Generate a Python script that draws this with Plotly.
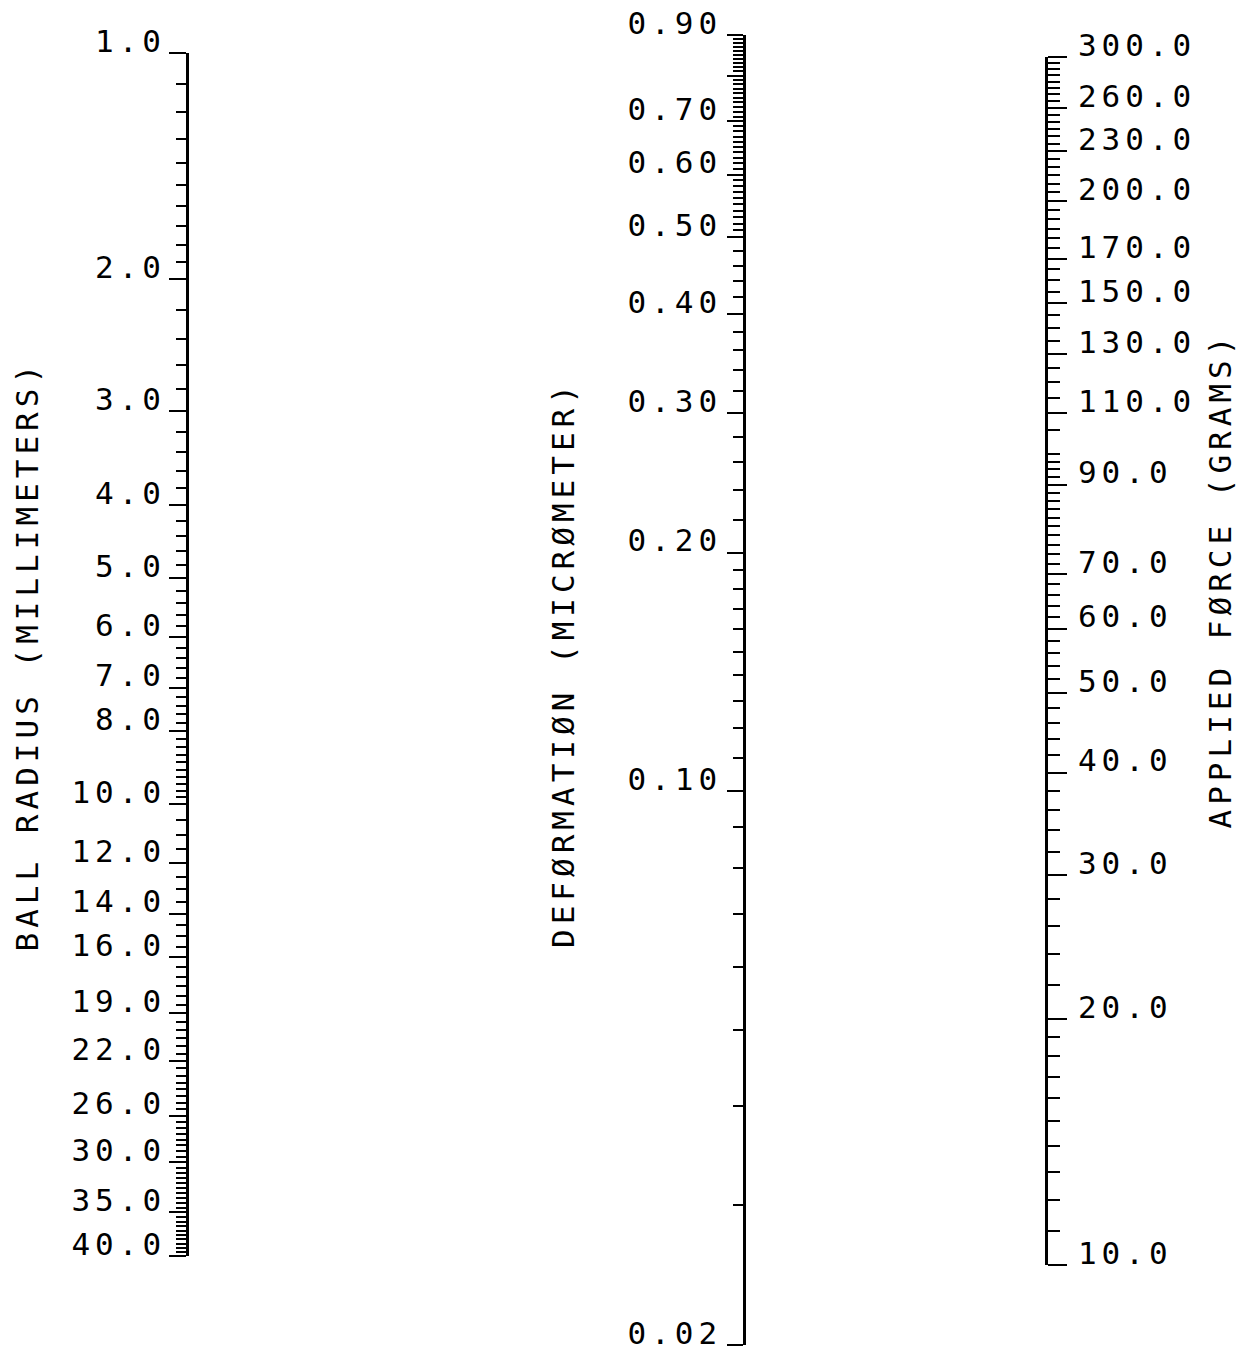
import numpy as np
import plotly.graph_objects as go

# ---- scale definitions -------------------------------------------------
# Ball radius (mm): labelled ticks
radius_major = [1, 2, 3, 4, 5, 6, 7, 8, 10, 12, 14, 16, 19, 22, 26, 30, 35, 40]
radius_labels = ["1.0", "2.0", "3.0", "4.0", "5.0", "6.0", "7.0", "8.0", "10.0",
                 "12.0", "14.0", "16.0", "19.0", "22.0", "26.0", "30.0", "35.0", "40.0"]
# (start, stop, step) segments for the fine graduations
radius_minor_steps = [(1.0, 2.0, 0.1), (2.0, 10.0, 0.2), (10.0, 40.0, 0.5)]

# Deformation (micrometer)
deform_major = [0.02, 0.10, 0.20, 0.30, 0.40, 0.50, 0.60, 0.70, 0.80, 0.90]
deform_labels = ["0.02", "0.10", "0.20", "0.30", "0.40", "0.50", "0.60", "0.70", "", "0.90"]
deform_minor_steps = [(0.02, 0.20, 0.01), (0.20, 0.50, 0.02), (0.50, 0.90, 0.01)]

# Applied force (grams)
force_major = [10, 20, 30, 40, 50, 60, 70, 90, 110, 130, 150, 170, 200, 230, 260, 300]
force_labels = ["10.0", "20.0", "30.0", "40.0", "50.0", "60.0", "70.0", "90.0", "110.0",
                "130.0", "150.0", "170.0", "200.0", "230.0", "260.0", "300.0"]
force_minor_steps = [(10, 20, 1), (20, 100, 2), (100, 300, 5)]


def graduations(steps, major):
    vals = []
    for lo, hi, st in steps:
        n = int(round((hi - lo) / st))
        for k in range(1, n):
            v = round(lo + k * st, 4)
            if all(abs(v - m) > 1e-9 for m in major):
                vals.append(v)
    return vals


radius_minor = graduations(radius_minor_steps, radius_major)
deform_minor = graduations(deform_minor_steps, deform_major)
force_minor = graduations(force_minor_steps, force_major)

W, H = 1244, 1355
FONT = dict(family="DejaVu Sans Mono", size=31, color="black")


def dom(top_px, bottom_px):
    return [1 - bottom_px / H, 1 - top_px / H]


fig = go.Figure()
for vals, ax in [(radius_major, "y"), (deform_major, "y2"), (force_major, "y3")]:
    fig.add_trace(go.Scatter(x=[0] * len(vals), y=vals, xaxis="x", yaxis=ax, mode="markers",
                             marker=dict(opacity=0), hoverinfo="skip", showlegend=False))

common = dict(type="log", showgrid=False, zeroline=False, showline=True,
              linecolor="black", linewidth=2.5, ticks="outside", tickwidth=2,
              tickcolor="black", tickfont=FONT, anchor="free", fixedrange=True,
              automargin=False, ticklabeloverflow="allow")

# labels sit just above their tick (baseline on the tick)
fig.update_layout(
    template="none",
    width=W, height=H,
    margin=dict(l=0, r=0, t=0, b=0, pad=0, autoexpand=False),
    paper_bgcolor="white", plot_bgcolor="rgba(0,0,0,0)",
    xaxis=dict(domain=[0, 1], range=[0, 1], visible=False, fixedrange=True, automargin=False),
    yaxis=dict(common, domain=dom(53, 1256), position=187 / W, side="left",
               range=[np.log10(40), np.log10(1)], ticklabelshift=12,
               tickmode="array", tickvals=radius_major, ticktext=radius_labels, ticklen=17,
               ticklabelstandoff=-3,
               minor=dict(tickmode="array", tickvals=radius_minor, ticks="outside",
                          ticklen=10, tickwidth=2, tickcolor="black", showgrid=False)),
    yaxis2=dict(common, domain=dom(35, 1345), position=744 / W, side="left",
                range=[np.log10(0.02), np.log10(0.9)], ticklabelshift=-12,
                tickmode="array", tickvals=deform_major, ticktext=deform_labels, ticklen=16,
                ticklabelstandoff=-1,
                minor=dict(tickmode="array", tickvals=deform_minor, ticks="outside",
                           ticklen=10, tickwidth=2, tickcolor="black", showgrid=False)),
    yaxis3=dict(common, domain=dom(57, 1265), position=1046 / W, side="right",
                range=[np.log10(10), np.log10(300)], ticklabelshift=-12,
                tickmode="array", tickvals=force_major, ticktext=force_labels, ticklen=19,
                ticklabelstandoff=5,
                minor=dict(tickmode="array", tickvals=force_minor, ticks="outside",
                           ticklen=12, tickwidth=2, tickcolor="black", showgrid=False)),
    showlegend=False,
)

titles = [("BALL RADIUS (MILLIMETERS)", 27, 656),
          ("DEFØRMATIØN (MICRØMETER)", 563, 664),
          ("APPLIED FØRCE (GRAMS)", 1220, 580)]
for text, xp, yp in titles:
    fig.add_annotation(text=text, xref="paper", yref="paper", x=xp / W, y=1 - yp / H,
                       xanchor="center", yanchor="middle", textangle=-90,
                       showarrow=False, font=FONT)

# plotter-style wide character spacing
post = """
var gd = document.getElementById('{plot_id}');
function spread(){
  gd.querySelectorAll('.ytick text, .y2tick text, .y3tick text, .annotation-text').forEach(function(t){
    t.style.letterSpacing = '5px';
  });
}
spread();
gd.on('plotly_afterplot', spread);
"""

fig.write_html("out.html", post_script=post)
